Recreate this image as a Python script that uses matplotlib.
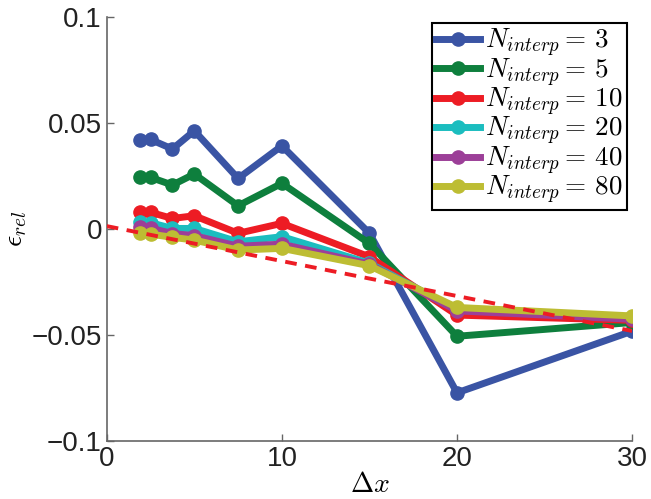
import matplotlib
matplotlib.use('Agg')
import matplotlib.pyplot as plt

plt.rcParams['font.family'] = ['Liberation Sans', 'DejaVu Sans']
plt.rcParams['mathtext.fontset'] = 'cm'

# grid spacings
dx = [1.875, 2.5, 3.75, 5, 7.5, 10, 15, 20, 30]

# relative error for each N_interp
eps_3 = [0.0421, 0.0424, 0.0379, 0.0465, 0.0240, 0.0394, -0.0019, -0.0772, -0.0481]
eps_5 = [0.0245, 0.0245, 0.0209, 0.0261, 0.0111, 0.0217, -0.0067, -0.0505, -0.0440]
eps_10 = [0.0083, 0.0080, 0.0051, 0.0064, -0.0019, 0.0028, -0.0130, -0.0405, -0.0430]
eps_20 = [0.0035, 0.0031, 0.0004, 0.0004, -0.0059, -0.0035, -0.0160, -0.0380, -0.0420]
eps_40 = [0.0010, 0.0005, -0.0020, -0.0030, -0.0080, -0.0070, -0.0165, -0.0385, -0.0425]
eps_80 = [-0.0016, -0.0023, -0.0038, -0.0051, -0.0098, -0.0090, -0.0172, -0.0369, -0.0409]

n_interp = [3, 5, 10, 20, 40, 80]
series = [eps_3, eps_5, eps_10, eps_20, eps_40, eps_80]
colors = ['#3a54a4', '#0e7f3d', '#ed1c24', '#1bbdbf', '#9c3f98', '#bdbd33']

# dashed reference line
dx_ref = [0, 30]
eps_ref = [0.0015, -0.0480]

fig = plt.figure(figsize=(6.51, 4.99), dpi=100)
ax = fig.add_axes([0.164, 0.116, 0.807, 0.849])

for n, eps, c in zip(n_interp, series, colors):
    ax.plot(dx, eps, '-o', color=c, lw=5, ms=9.5, label=r'$N_{interp}{=}\,%d$' % n)

ax.plot(dx_ref, eps_ref, '--', color='#ed1c24', lw=2.8, dashes=(3, 2.2), zorder=5)

ax.set_xlim(0, 30)
ax.set_ylim(-0.1, 0.1)
ax.set_xticks([0, 10, 20, 30])
ax.set_yticks([-0.1, -0.05, 0, 0.05, 0.1])
ax.set_yticklabels(['\u22120.1', '\u22120.05', '0', '0.05', '0.1'])
ax.tick_params(direction='in', labelsize=20, length=5, width=1, color='#666666', labelcolor='#222222')
for s in ['top', 'right']:
    ax.spines[s].set_visible(False)
for s in ['left', 'bottom']:
    ax.spines[s].set_color('#666666')
    ax.spines[s].set_linewidth(1.2)

ax.set_xlabel(r'$\Delta x$', fontsize=20, labelpad=0)
ax.set_ylabel(r'$\epsilon_{rel}$', fontsize=20)
ax.yaxis.set_label_coords(-0.148, 0.5)

leg = ax.legend(loc='upper right', bbox_to_anchor=(0.99, 0.987), borderaxespad=0,
                fontsize=19.5, handlelength=1.6, handletextpad=0.2, labelspacing=-0.1,
                borderpad=0.15, fancybox=False, framealpha=1)
leg.get_frame().set_edgecolor('black')
leg.get_frame().set_linewidth(1.5)

fig.savefig('out.png', dpi=100)
